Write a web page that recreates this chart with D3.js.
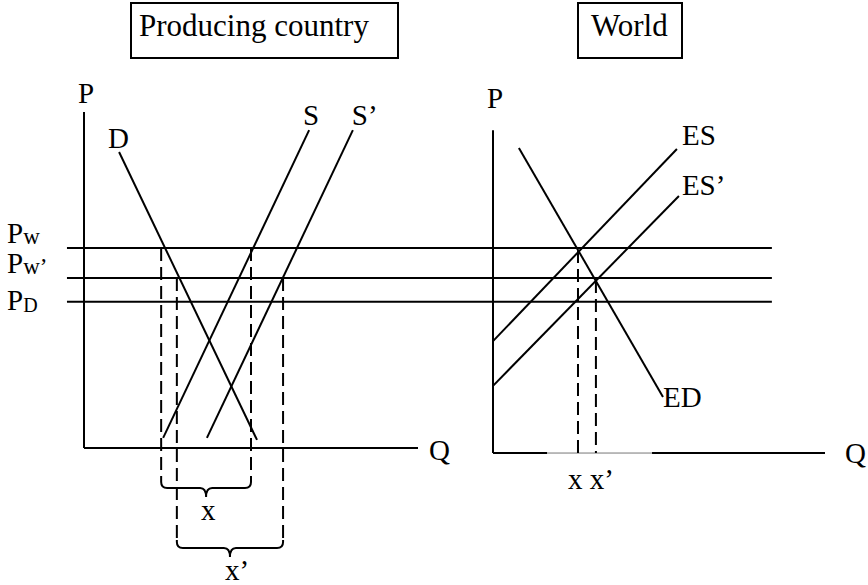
<!DOCTYPE html>
<html>
<head>
<meta charset="utf-8">
<script src="https://cdn.jsdelivr.net/npm/d3@7"></script>
<style>
  body { margin: 0; background: #fff; }
  svg text { font-family: "Liberation Serif", "Times New Roman", serif; fill: #000; }
</style>
</head>
<body>
<script>
// price levels shared by both panels
const priceNames = ['P_w', 'P_w’', 'P_D'];
const priceValues = [59.5, 50.6, 43.5];

// producing country : curves [q, p]
const homeCurveNames = ['D', 'S', 'S’'];
const homeCurveStart = [[10.5, 88.1], [23.7, 3.0], [36.8, 3.0]];
const homeCurveEnd = [[51.8, 2.4], [67.4, 94.6], [80.5, 94.6]];

// exports x and x' (quantities read at Pw and Pw')
const braceNames = ['x', 'x’'];
const braceFrom = [23.1, 27.8];
const braceTo = [50.0, 59.6];
const bracePrice = [59.5, 50.6];

// world market
const worldCurveNames = ['ES', 'ES’', 'ED'];
const worldCurveStart = [[0, 31.8], [0, 18.5], [7.8, 89.3]];
const worldCurveEnd = [[55.4, 89.0], [56.0, 75.0], [51.2, 15.2]];
const worldDrops = [25.6, 31.0];
const worldDropPrice = [58.9, 50.0];

const width = 868, height = 585;

const svg = d3.select('body')
    .append('svg')
    .attr('width', width)
    .attr('height', height);

// scales
const y = d3.scaleLinear().domain([0, 100]).range([448, 112]);
const xL = d3.scaleLinear().domain([0, 100]).range([84, 418]);
const xR = d3.scaleLinear().domain([0, 100]).range([493, 825]);
const worldBase = -1.5;   // world Q axis sits a little lower

const fs = 29;

function line(g, x1, y1, x2, y2, dash) {
    return g.append('line')
        .attr('x1', x1).attr('y1', y1)
        .attr('x2', x2).attr('y2', y2)
        .attr('stroke', '#000')
        .attr('stroke-width', 2)
        .attr('stroke-dasharray', dash || null);
}

// title boxes
const titles = [
    { text: 'Producing country', x: 131, w: 267 },
    { text: 'World', x: 578, w: 104 }
];
titles.forEach(t => {
    svg.append('rect')
        .attr('x', t.x).attr('y', 3)
        .attr('width', t.w).attr('height', 55)
        .attr('fill', 'none')
        .attr('stroke', '#000')
        .attr('stroke-width', 2);
    svg.append('text')
        .attr('x', t.x + 8 + (t.text === 'World' ? 5 : 0))
        .attr('y', 36)
        .attr('font-size', 31)
        .text(t.text);
});

// price lines across both panels
const prices = svg.append('g');
priceValues.forEach((p, i) => {
    line(prices, xL(-5.1), y(p), xR(84), y(p));
    const [base, sub] = priceNames[i].split('_');
    const isD = sub === 'D';
    const t = prices.append('text')
        .attr('x', 7)
        .attr('y', y(p) - 2 + (isD ? 10 : -3))
        .attr('font-size', fs);
    t.append('tspan').text(base);
    t.append('tspan')
        .attr('font-size', isD ? 20 : 23)
        .attr('dy', isD ? 2 : 1)
        .text(sub);
});

// ---- producing country ----
const home = svg.append('g');
line(home, xL(0), y(0), xL(0), y(100));
line(home, xL(0), y(0), xL(100), y(0));
home.append('text').attr('x', xL(0) - 6).attr('y', y(100) - 9).attr('font-size', fs).text('P');
home.append('text').attr('x', xL(100) + 11).attr('y', y(0) + 12).attr('font-size', fs).text('Q');

homeCurveNames.forEach((n, i) => {
    line(home, xL(homeCurveStart[i][0]), y(homeCurveStart[i][1]),
        xL(homeCurveEnd[i][0]), y(homeCurveEnd[i][1]));
});
const homeLabelPos = [
    [xL(homeCurveStart[0][0]) - 11, y(homeCurveStart[0][1]) - 4],
    [xL(homeCurveEnd[1][0]) - 6, y(homeCurveEnd[1][1]) - 5],
    [xL(homeCurveEnd[2][0]) - 1, y(homeCurveEnd[2][1]) - 5]
];
homeCurveNames.forEach((n, i) => {
    home.append('text')
        .attr('x', homeLabelPos[i][0]).attr('y', homeLabelPos[i][1])
        .attr('font-size', fs).text(n);
});

// dashed drops + braces
const braceTop = [y(0) + 32, y(0) + 92];
braceNames.forEach((n, i) => {
    const a = xL(braceFrom[i]), b = xL(braceTo[i]), top = braceTop[i];
    line(home, a, y(bracePrice[i]), a, top, '13,6');
    line(home, b, y(bracePrice[i]), b, top, '13,6');
    const m = (a + b) / 2, h = top + 8, r = 6, tip = top + 17;
    const path = d3.path();
    path.moveTo(a, top);
    path.lineTo(a, h - r);
    path.quadraticCurveTo(a, h, a + r, h);
    path.lineTo(m - r, h);
    path.quadraticCurveTo(m, h, m, tip);
    path.quadraticCurveTo(m, h, m + r, h);
    path.lineTo(b - r, h);
    path.quadraticCurveTo(b, h, b, h - r);
    path.lineTo(b, top);
    home.append('path')
        .attr('d', path.toString())
        .attr('fill', 'none')
        .attr('stroke', '#000')
        .attr('stroke-width', 2);
    home.append('text')
        .attr('x', m - 5).attr('y', tip + 23)
        .attr('font-size', fs).text(n);
});

// ---- world ----
const world = svg.append('g');
line(world, xR(0), y(worldBase), xR(0), y(94.6));
line(world, xR(0), y(worldBase), xR(16.3), y(worldBase));
line(world, xR(47.9), y(worldBase), xR(100), y(worldBase));
world.append('line')
    .attr('x1', xR(16.3)).attr('x2', xR(47.9))
    .attr('y1', y(worldBase)).attr('y2', y(worldBase))
    .attr('stroke', '#777').attr('stroke-width', 1);
world.append('text').attr('x', xR(0) - 6).attr('y', y(94.6) - 22).attr('font-size', fs).text('P');
world.append('text').attr('x', xR(100) + 20).attr('y', y(worldBase) + 10).attr('font-size', fs).text('Q');

worldCurveNames.forEach((n, i) => {
    line(world, xR(worldCurveStart[i][0]), y(worldCurveStart[i][1]),
        xR(worldCurveEnd[i][0]), y(worldCurveEnd[i][1]));
});
const worldLabelPos = [
    [xR(worldCurveEnd[0][0]) + 5, y(worldCurveEnd[0][1]) - 4],
    [xR(worldCurveEnd[1][0]) + 3, y(worldCurveEnd[1][1]) - 1],
    [xR(worldCurveEnd[2][0]), y(worldCurveEnd[2][1]) + 10]
];
worldCurveNames.forEach((n, i) => {
    world.append('text')
        .attr('x', worldLabelPos[i][0]).attr('y', worldLabelPos[i][1])
        .attr('font-size', fs).text(n);
});

worldDrops.forEach((q, i) => {
    line(world, xR(q), y(worldDropPrice[i]), xR(q), y(worldBase), '13,6');
});
world.append('text')
    .attr('x', xR(worldDrops[0]) - 10)
    .attr('y', y(worldBase) + 36)
    .attr('font-size', fs)
    .text(braceNames.join(' '));
</script>
</body>
</html>
